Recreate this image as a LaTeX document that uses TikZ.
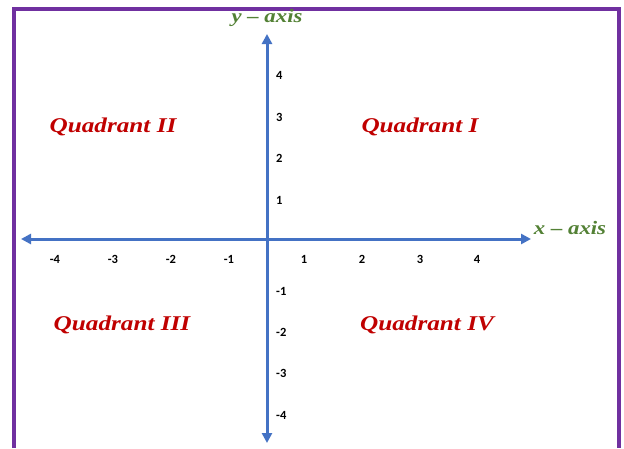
\documentclass[tikz,border=0pt]{standalone}
\usepackage{fontspec}
\setmainfont{Liberation Serif}
\newfontfamily\tickfont{Carlito}
\newfontfamily\widefont[FakeStretch=1.2]{Liberation Serif}
\usetikzlibrary{arrows.meta}
\definecolor{framepurple}{HTML}{7030A0}
\definecolor{axisblue}{HTML}{4472C4}
\definecolor{axisgreen}{HTML}{538135}
\definecolor{quadred}{HTML}{C00000}
\begin{document}
\begin{tikzpicture}[x=1pt,y=-1pt,
  axisline/.style={draw=axisblue,line width=3pt,-{Triangle[length=10pt,width=10pt]}},
  ticklab/.style={font=\tickfont\bfseries\fontsize{12.5}{12.5}\selectfont,inner sep=0pt},
  axislab/.style={text=axisgreen,font=\widefont\bfseries\itshape\fontsize{19}{19}\selectfont,inner sep=0pt},
  quadlab/.style={text=quadred,font=\widefont\bfseries\itshape\fontsize{21}{21}\selectfont,inner sep=0pt}]
\useasboundingbox (0,0) rectangle (624,448);
\fill[white] (0,0) rectangle (624,448);
\draw[framepurple,line width=3.5pt] (14,448) -- (14,9) -- (619,9) -- (619,448);
\coordinate (o) at (267,239);
\coordinate (xl) at (21,239);
\coordinate (xr) at (531,239);
\coordinate (yt) at (267,34);
\coordinate (yb) at (267,443);
\draw[axisline] (o) -- (xr);
\draw[axisline] (o) -- (xl);
\draw[axisline] (o) -- (yt);
\draw[axisline] (o) -- (yb);
\node[axislab] (ylab) at (267,18) {y – axis};
\node[axislab] (xlab) at (570,228) {x – axis};
\foreach \lab/\px in {-4/55,-3/113,-2/171,-1/229,1/304,2/362,3/420,4/477}
  \node[ticklab] (xt\px) at (\px,259) {\lab};
\foreach \lab/\py in {4/75,3/117,2/158,1/200,-1/291,-2/332,-3/373,-4/415}
  \node[ticklab,anchor=west] (yt\py) at (276,\py) {\lab};
\node[quadlab] (q2) at (113,127) {Quadrant II};
\node[quadlab] (q1) at (420,127) {Quadrant I};
\node[quadlab] (q3) at (122,325) {Quadrant III};
\node[quadlab] (q4) at (427,325) {Quadrant IV};
\end{tikzpicture}
\end{document}
